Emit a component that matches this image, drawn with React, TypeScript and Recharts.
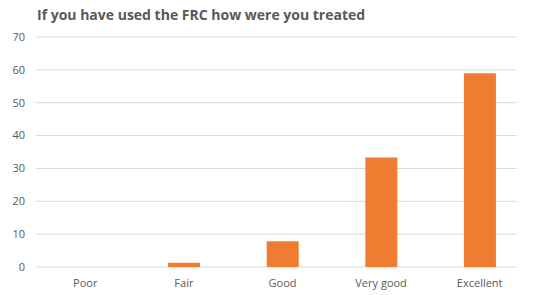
import { BarChart, Bar, XAxis, YAxis, CartesianGrid } from 'recharts'

const categories = ['Poor', 'Fair', 'Good', 'Very good', 'Excellent']
const counts = [0, 1.3, 7.8, 33.3, 59]
const yTicks = [0, 10, 20, 30, 40, 50, 60, 70]

const data = categories.map((name, i) => ({ name, value: counts[i] }))

const textColor = '#595959'
const font = '"Open Sans", sans-serif'

export default function App() {
  return (
    <div
      style={{
        position: 'absolute',
        left: 0,
        top: 0,
        width: 535,
        height: 295,
        background: '#fff',
        fontFamily: font,
      }}
    >
      <div
        style={{
          position: 'absolute',
          left: 37,
          top: 5,
          fontSize: 14,
          fontWeight: 700,
          color: textColor,
          whiteSpace: 'nowrap',
        }}
      >
        If you have used the FRC how were you treated
      </div>
      <BarChart
        width={535}
        height={295}
        data={data}
        margin={{ top: 37, right: 6, bottom: 0, left: 0 }}
        barCategoryGap="34%"
      >
        {/* gridlines stop short of the last category, as in the original */}
        <CartesianGrid vertical={false} stroke="#d9d9d9" x={36} width={481} />
        <XAxis
          dataKey="name"
          height={28}
          axisLine={false}
          tickLine={false}
          tickSize={0}
          tickMargin={12}
          tick={{ fill: textColor, fontSize: 11, fontFamily: font }}
        />
        <YAxis
          width={36}
          domain={[0, 70]}
          ticks={yTicks}
          axisLine={false}
          tickLine={false}
          tickSize={0}
          tickMargin={11}
          tick={{ fill: textColor, fontSize: 11, fontFamily: font }}
        />
        <Bar dataKey="value" fill="#ED7D31" isAnimationActive={false} />
      </BarChart>
    </div>
  )
}
